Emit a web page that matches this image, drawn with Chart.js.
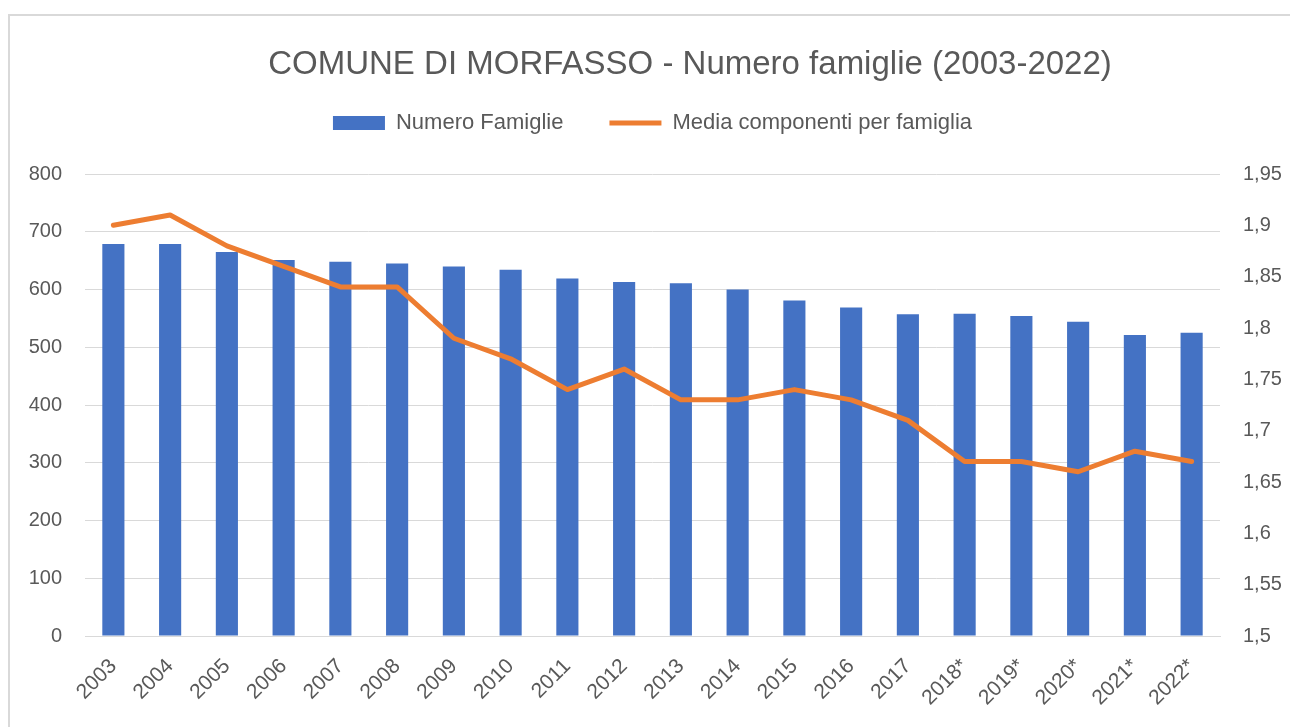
<!DOCTYPE html>
<html lang="it">
<head>
<meta charset="UTF-8">
<title>Comune di Morfasso - Numero famiglie</title>
<style>
  html, body { margin: 0; padding: 0; overflow: hidden; background: #fff; }
  #frame {
    position: absolute; left: 8px; top: 14px;
    width: 1400px; height: 800px;
    border-left: 2px solid #d9d9d9; border-top: 2px solid #d9d9d9;
  }
  #chart { position: absolute; left: 0; top: 0; }
</style>
</head>
<body>
<div id="frame"></div>
<canvas id="chart" width="1380" height="727"></canvas>
<script src="https://cdn.jsdelivr.net/npm/chart.js"></script>
<script>
  // data
  const anni = ['2003', '2004', '2005', '2006', '2007', '2008', '2009', '2010', '2011', '2012',
    '2013', '2014', '2015', '2016', '2017', '2018*', '2019*', '2020*', '2021*', '2022*'];
  const numeroFamiglie = [679, 679, 665, 651, 648, 645, 640, 634, 619, 613,
    611, 600, 581, 569, 557, 558, 554, 544, 521, 525];
  const mediaComponenti = [1.90, 1.91, 1.88, 1.86, 1.84, 1.84, 1.79, 1.77, 1.74, 1.76,
    1.73, 1.73, 1.74, 1.73, 1.71, 1.67, 1.67, 1.66, 1.68, 1.67];

  const grigio = '#595959';
  const font = 'Liberation Sans';

  new Chart(document.getElementById('chart'), {
    data: {
      labels: anni,
      datasets: [{
        type: 'bar',
        label: 'Numero Famiglie',
        data: numeroFamiglie,
        backgroundColor: '#4472C4',
        barPercentage: 0.39,
        categoryPercentage: 1,
        pointStyle: 'rect',
        yAxisID: 'y',
        order: 1
      }, {
        type: 'line',
        label: 'Media componenti per famiglia',
        data: mediaComponenti,
        borderColor: '#ED7D31',
        backgroundColor: '#ED7D31',
        borderWidth: 5,
        borderCapStyle: 'round',
        borderJoinStyle: 'round',
        pointRadius: 0,
        pointStyle: 'line',
        tension: 0,
        yAxisID: 'y1',
        order: 0
      }]
    },
    options: {
      responsive: false,
      animation: false,
      layout: { padding: 0 },
      plugins: {
        tooltip: { enabled: false },
        title: {
          display: true,
          text: 'COMUNE DI MORFASSO - Numero famiglie (2003-2022)',
          color: grigio,
          font: { family: font, size: 33, weight: 'normal' },
          padding: { top: 45.5, bottom: -19.1 }
        },
        legend: {
          position: 'top',
          fullSize: false,
          weight: 1800,
          labels: {
            color: grigio,
            font: { family: font, size: 22 },
            usePointStyle: true,
            pointStyleWidth: 52,
            boxHeight: 14,
            padding: 46,
            sort: (a, b) => a.datasetIndex - b.datasetIndex
          }
        },
        subtitle: {
          // empty spacer between legend and plot
          display: true,
          text: '',
          font: { size: 10 },
          padding: { top: 0, bottom: 18 }
        }
      },
      scales: {
        x: {
          grid: { display: false },
          border: { display: true, color: '#d9d9d9', width: 1 },
          ticks: {
            color: grigio,
            font: { family: font, size: 21 },
            minRotation: 45,
            maxRotation: 45,
            padding: 10,
            autoSkip: false
          },
          afterFit: (s) => { s.height = 91; }
        },
        y: {
          position: 'left',
          min: 0,
          max: 800,
          ticks: {
            stepSize: 100,
            color: grigio,
            font: { family: font, size: 20 },
            padding: 23
          },
          grid: { color: '#d9d9d9', lineWidth: 1, drawTicks: false },
          border: { display: false },
          afterFit: (s) => { s.width = 85; }
        },
        y1: {
          position: 'right',
          min: 1.5,
          max: 1.95,
          ticks: {
            stepSize: 0.05,
            color: grigio,
            font: { family: font, size: 20 },
            padding: 23,
            callback: (v) => String(parseFloat(v.toFixed(2))).replace('.', ',')
          },
          grid: { display: false, drawTicks: false },
          border: { display: false },
          afterFit: (s) => { s.width = 160; }
        }
      }
    }
  });
</script>
</body>
</html>
